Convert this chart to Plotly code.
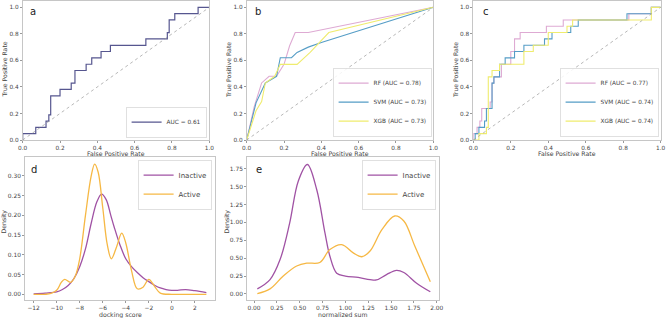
import plotly.graph_objects as go

FONT = "DejaVu Sans"
W, H = 666, 318

# ---------------- data ----------------
# panel a : ROC (step points, hv)
a_fpr = [0, 0, 0.07, 0.125, 0.14, 0.15, 0.2, 0.26, 0.28, 0.34, 0.37, 0.42, 0.47, 0.66, 0.775, 0.785, 0.815, 0.94, 1.0]
a_tpr = [0, 0.048, 0.095, 0.143, 0.19, 0.333, 0.381, 0.429, 0.524, 0.571, 0.619, 0.667, 0.714, 0.762, 0.81, 0.905, 0.952, 1.0, 1.0]
a_label = "AUC = 0.61"

# panel b : ROC (linear)
b_rf_fpr = [0, 0.04, 0.08, 0.12, 0.16, 0.2, 0.23, 0.26, 0.33, 1.0]
b_rf_tpr = [0, 0.25, 0.43, 0.48, 0.48, 0.57, 0.71, 0.81, 0.81, 1.0]
b_svm_fpr = [0, 0.05, 0.1, 0.16, 0.18, 0.24, 0.27, 0.33, 0.4, 1.0]
b_svm_tpr = [0, 0.28, 0.43, 0.48, 0.62, 0.62, 0.66, 0.70, 0.735, 1.0]
b_xgb_fpr = [0, 0.05, 0.08, 0.1, 0.15, 0.18, 0.27, 0.34, 0.44, 1.0]
b_xgb_tpr = [0, 0.22, 0.29, 0.43, 0.48, 0.57, 0.57, 0.66, 0.81, 1.0]
b_labels = ["RF (AUC = 0.78)", "SVM (AUC = 0.73)", "XGB (AUC = 0.73)"]

# panel c : ROC (step points, hv)
c_rf_fpr = [0, 0, 0.02, 0.035, 0.045, 0.09, 0.1, 0.11, 0.15, 0.2, 0.22, 0.25, 0.39, 0.48, 0.83, 0.95, 1.0]
c_rf_tpr = [0, 0.048, 0.095, 0.143, 0.238, 0.286, 0.429, 0.476, 0.571, 0.667, 0.762, 0.81, 0.857, 0.905, 0.952, 1.0, 1.0]
c_svm_fpr = [0, 0.01, 0.03, 0.06, 0.07, 0.1, 0.11, 0.14, 0.17, 0.22, 0.27, 0.38, 0.42, 0.52, 0.56, 0.82, 0.95, 1.0]
c_svm_tpr = [0, 0.048, 0.095, 0.143, 0.238, 0.429, 0.476, 0.571, 0.619, 0.667, 0.714, 0.762, 0.81, 0.857, 0.905, 0.952, 1.0, 1.0]
c_xgb_fpr = [0, 0.03, 0.07, 0.08, 0.1, 0.14, 0.27, 0.32, 0.4, 0.5, 0.53, 0.95, 1.0]
c_xgb_tpr = [0, 0.048, 0.095, 0.476, 0.524, 0.571, 0.667, 0.714, 0.81, 0.857, 0.905, 1.0, 1.0]
c_labels = ["RF (AUC = 0.77)", "SVM (AUC = 0.74)", "XGB (AUC = 0.74)"]

# panel d : density of docking score
d_inact_x = [-12, -11, -10, -9.5, -9, -8.5, -8, -7.5, -7, -6.5, -6.1, -5.7, -5.3, -5, -4.5, -4, -3.5, -3, -2.5, -2, -1.5, -1, -0.5, 0, 0.5, 1.2, 2, 3]
d_inact_y = [0.001, 0.003, 0.006, 0.012, 0.022, 0.04, 0.07, 0.115, 0.18, 0.235, 0.254, 0.24, 0.2, 0.17, 0.125, 0.09, 0.07, 0.055, 0.042, 0.032, 0.023, 0.016, 0.012, 0.01, 0.01, 0.012, 0.009, 0.004]
d_act_x = [-12, -11, -10.5, -10, -9.6, -9.3, -8.8, -8.4, -8, -7.5, -7.0, -6.7, -6.4, -6.0, -5.6, -5.25, -4.8, -4.35, -4.0, -3.5, -3.0, -2.5, -2.0, -1.5, -1.0, 0, 1, 2, 3]
d_act_y = [0.0, 0.0, 0.002, 0.01, 0.03, 0.038, 0.03, 0.045, 0.09, 0.2, 0.3, 0.33, 0.31, 0.22, 0.125, 0.09, 0.12, 0.155, 0.13, 0.06, 0.014, 0.018, 0.038, 0.02, 0.003, 0.0, 0.0, 0.0, 0.0]
d_ticks = [-12, -10, -8, -6, -4, -2, 0, 2]

# panel e : density of normalized sum
e_inact_x = [0.036, 0.175, 0.285, 0.39, 0.485, 0.584, 0.686, 0.777, 0.83, 0.905, 1.0, 1.14, 1.27, 1.34, 1.45, 1.56, 1.64, 1.78, 1.93]
e_inact_y = [0.07, 0.2, 0.48, 0.99, 1.58, 1.81, 1.46, 0.85, 0.53, 0.29, 0.25, 0.23, 0.2, 0.195, 0.27, 0.33, 0.30, 0.15, 0.03]
e_act_x = [0.036, 0.175, 0.32, 0.467, 0.577, 0.72, 0.83, 0.96, 1.09, 1.18, 1.27, 1.4, 1.54, 1.64, 1.76, 1.93]
e_act_y = [0.005, 0.07, 0.25, 0.39, 0.43, 0.44, 0.62, 0.69, 0.57, 0.52, 0.6, 0.9, 1.09, 1.02, 0.67, 0.17]
e_ticks = [0, 0.25, 0.5, 0.75, 1.0, 1.25, 1.5, 1.75, 2.0]

roc_ticks = [0, 0.2, 0.4, 0.6, 0.8, 1.0]
dens_names = ["Inactive", "Active"]

# ---------------- style ----------------
C_A = "#56568f"
C_RF, C_SVM, C_XGB = "#deaad3", "#559dc6", "#efec6e"
C_IN, C_AC = "#a052a4", "#f6b844"
DIAG = "#999999"
FRAME = "#c6c6c6"
TXT = "#444444"


def px(x):
    return x / W


def py(y):
    return 1 - y / H


fig = go.Figure()

# panel a
fig.add_trace(go.Scatter(x=a_fpr, y=a_tpr, mode="lines", line=dict(color=C_A, width=1.2, shape="hv"),
                         name=a_label, legend="legend", xaxis="x", yaxis="y"))
fig.add_trace(go.Scatter(x=[0, 1], y=[0, 1], mode="lines", line=dict(color=DIAG, width=0.7, dash="dot"),
                         showlegend=False, xaxis="x", yaxis="y"))

# panel b
for fx, ty, col, lab in [(b_rf_fpr, b_rf_tpr, C_RF, b_labels[0]),
                         (b_svm_fpr, b_svm_tpr, C_SVM, b_labels[1]),
                         (b_xgb_fpr, b_xgb_tpr, C_XGB, b_labels[2])]:
    fig.add_trace(go.Scatter(x=fx, y=ty, mode="lines", line=dict(color=col, width=1.1),
                             name=lab, legend="legend2", xaxis="x2", yaxis="y2"))
fig.add_trace(go.Scatter(x=[0, 1], y=[0, 1], mode="lines", line=dict(color=DIAG, width=0.7, dash="dot"),
                         showlegend=False, xaxis="x2", yaxis="y2"))

# panel c
for fx, ty, col, lab in [(c_rf_fpr, c_rf_tpr, C_RF, c_labels[0]),
                         (c_svm_fpr, c_svm_tpr, C_SVM, c_labels[1]),
                         (c_xgb_fpr, c_xgb_tpr, C_XGB, c_labels[2])]:
    fig.add_trace(go.Scatter(x=fx, y=ty, mode="lines", line=dict(color=col, width=1.1, shape="hv"),
                             name=lab, legend="legend3", xaxis="x3", yaxis="y3"))
fig.add_trace(go.Scatter(x=[0, 1], y=[0, 1], mode="lines", line=dict(color=DIAG, width=0.7, dash="dot"),
                         showlegend=False, xaxis="x3", yaxis="y3"))

# panel d
fig.add_trace(go.Scatter(x=d_inact_x, y=d_inact_y, mode="lines", line=dict(color=C_IN, width=1.3, shape="spline", smoothing=1.0),
                         name=dens_names[0], legend="legend4", xaxis="x4", yaxis="y4"))
fig.add_trace(go.Scatter(x=d_act_x, y=d_act_y, mode="lines", line=dict(color=C_AC, width=1.3, shape="spline", smoothing=1.0),
                         name=dens_names[1], legend="legend4", xaxis="x4", yaxis="y4"))

# panel e
fig.add_trace(go.Scatter(x=e_inact_x, y=e_inact_y, mode="lines", line=dict(color=C_IN, width=1.3, shape="spline", smoothing=1.0),
                         name=dens_names[0], legend="legend5", xaxis="x5", yaxis="y5"))
fig.add_trace(go.Scatter(x=e_act_x, y=e_act_y, mode="lines", line=dict(color=C_AC, width=1.3, shape="spline", smoothing=1.0),
                         name=dens_names[1], legend="legend5", xaxis="x5", yaxis="y5"))


def ax(domain, rng, tickvals, fmt, anchor, size=5.8):
    return dict(domain=domain, range=rng, tickvals=tickvals, tickformat=fmt, anchor=anchor,
                showline=True, mirror=True, linecolor=FRAME, linewidth=0.8, showgrid=False, zeroline=False,
                ticks="outside", ticklen=2, tickwidth=0.6, tickcolor="#999999",
                tickfont=dict(family=FONT, size=size, color=TXT), automargin=False, fixedrange=True)


top_y = [py(140), py(0.7)]
bot_y = [py(300), py(157)]

layout = dict(
    width=W, height=H, margin=dict(l=0, r=0, t=0, b=0),
    paper_bgcolor="white", plot_bgcolor="white",
    font=dict(family=FONT, color=TXT),
    xaxis=ax([px(22.7), px(209.3)], [0, 1], roc_ticks, ".1f", "y"),
    yaxis=ax(top_y, [0, 1.05], roc_ticks, ".1f", "x"),
    xaxis2=ax([px(246.7), px(433.3)], [0, 1], roc_ticks, ".1f", "y2"),
    yaxis2=ax(top_y, [0, 1.05], roc_ticks, ".1f", "x2"),
    xaxis3=ax([px(473.3), px(660.7)], [0, 1], roc_ticks, ".1f", "y3"),
    yaxis3=ax(top_y, [0, 1.05], roc_ticks, ".1f", "x3"),
    xaxis4=ax([px(25), px(215)], [-12.75, 3.75], d_ticks, "d", "y4", 5.9),
    yaxis4=ax(bot_y, [-0.0145, 0.348], [0, 0.05, 0.1, 0.15, 0.2, 0.25, 0.3], ".2f", "x4", 5.9),
    xaxis5=ax([px(247), px(439)], [-0.077, 2.025], e_ticks, ".2f", "y5", 5.9),
    yaxis5=ax(bot_y, [-0.085, 1.915], [0, 0.25, 0.5, 0.75, 1.0, 1.25, 1.5, 1.75], ".2f", "x5", 5.9),
)


def leg(x, y, xa, ya, size):
    return dict(x=x, y=y, xanchor=xa, yanchor=ya, xref="paper", yref="paper",
                bgcolor="rgba(255,255,255,0.85)", bordercolor="#cccccc", borderwidth=0.6,
                font=dict(family=FONT, size=size, color=TXT), tracegroupgap=0, itemwidth=30)


layout["legend"] = leg(px(207), py(138), "right", "bottom", 5.8)
layout["legend2"] = leg(px(432), py(137), "right", "bottom", 5.8)
layout["legend3"] = leg(px(659), py(137), "right", "bottom", 5.8)
layout["legend4"] = leg(px(212), py(160), "right", "top", 7)
layout["legend5"] = leg(px(436), py(160), "right", "top", 7)

fig.update_layout(**layout)


def note(text, x, y, size, angle=0, color=TXT):
    return dict(text=text, x=px(x), y=py(y), xref="paper", yref="paper", showarrow=False,
                xanchor="center", yanchor="middle", textangle=angle,
                font=dict(family=FONT, size=size, color=color))


anns = []
# panel letters
for t, x, y in [("a", 33, 12), ("b", 258, 12), ("c", 486, 12), ("d", 34, 169), ("e", 259, 169)]:
    anns.append(note(t, x, y, 10, color="#222222"))
# axis titles
for x in [116, 340, 567]:
    anns.append(note("False Positive Rate", x, 153.5, 6.2))
for x in [4.5, 229, 456]:
    anns.append(note("True Positive Rate", x, 70, 6.2, angle=-90))
for x, t in [(120, "docking score"), (343, "normalized sum")]:
    anns.append(note(t, x, 314.5, 6.2))
for x in [3.5, 226.5]:
    anns.append(note("Density", x, 222, 6.2, angle=-90))
fig.update_layout(annotations=anns)

fig.write_html("out.html")
